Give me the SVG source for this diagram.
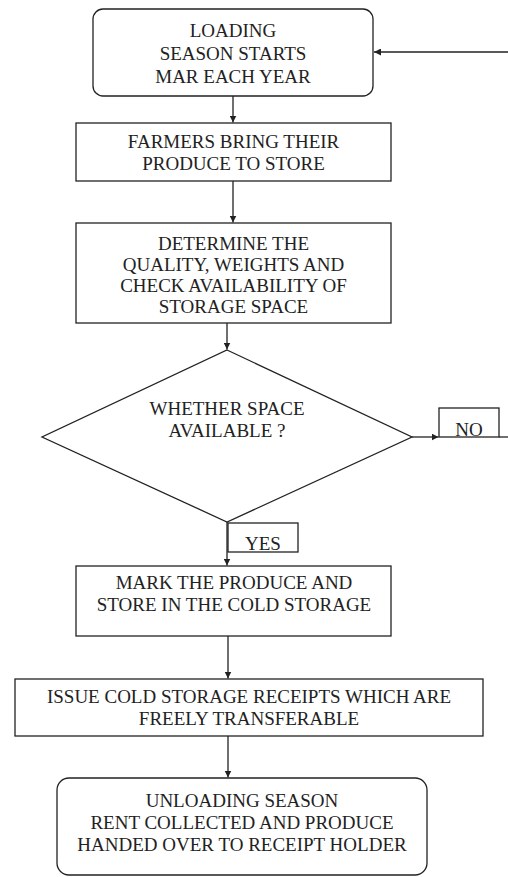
<svg xmlns="http://www.w3.org/2000/svg" width="508" height="877" viewBox="0 0 508 877">
<style>
.box{fill:#fff;stroke:#222;stroke-width:1.3}
.t{font-family:"Liberation Serif","Times New Roman",serif;font-size:19px;fill:#222;text-anchor:middle}
.c{fill:none;stroke:#222;stroke-width:1.3}
</style>
<defs>
<marker id="ah" viewBox="0 0 10 10" refX="10" refY="5" markerWidth="7" markerHeight="7" markerUnits="userSpaceOnUse" orient="auto">
<path d="M0,0 L10,5 L0,10 z" fill="#222"/>
</marker>
<clipPath id="clipNo"><rect x="439" y="408" width="60" height="28"/></clipPath>
<clipPath id="clipYes"><rect x="228" y="537" width="70" height="15"/></clipPath>
</defs>
<rect width="508" height="877" fill="#fff"/>
<g id="connectors">
<line class="c" x1="508" y1="52" x2="374" y2="52" marker-end="url(#ah)"/>
<line class="c" x1="233" y1="96" x2="233" y2="122.5" marker-end="url(#ah)"/>
<line class="c" x1="233" y1="181" x2="233" y2="222.5" marker-end="url(#ah)"/>
<line class="c" x1="227" y1="323" x2="227" y2="349.5" marker-end="url(#ah)"/>
<line class="c" x1="412" y1="437" x2="438.5" y2="437" marker-end="url(#ah)"/>
<line class="c" x1="499" y1="437" x2="508" y2="437"/>
<line class="c" x1="227" y1="522" x2="227" y2="565.5" marker-end="url(#ah)"/>
<line class="c" x1="228" y1="636" x2="228" y2="678.5" marker-end="url(#ah)"/>
<line class="c" x1="228" y1="736" x2="228" y2="777.5" marker-end="url(#ah)"/>
</g>
<g id="n1">
<rect class="box" x="93" y="9" width="280" height="87" rx="10"/>
<text class="t" x="233" y="37">LOADING</text>
<text class="t" x="233" y="60">SEASON STARTS</text>
<text class="t" x="233" y="83">MAR EACH YEAR</text>
</g>
<g id="n2">
<rect class="box" x="76" y="123" width="315" height="58"/>
<text class="t" x="233.5" y="148">FARMERS BRING THEIR</text>
<text class="t" x="233.5" y="170">PRODUCE TO STORE</text>
</g>
<g id="n3">
<rect class="box" x="76" y="223" width="315" height="100"/>
<text class="t" x="233.5" y="250">DETERMINE THE</text>
<text class="t" x="233.5" y="271">QUALITY, WEIGHTS AND</text>
<text class="t" x="233.5" y="292">CHECK AVAILABILITY OF</text>
<text class="t" x="233.5" y="313">STORAGE SPACE</text>
</g>
<g id="n4">
<polygon class="box" points="227,350 412,437 227,522 42,437"/>
<text class="t" x="227" y="415">WHETHER SPACE</text>
<text class="t" x="227" y="437">AVAILABLE ?</text>
</g>
<g id="no">
<text class="t" x="469" y="436" clip-path="url(#clipNo)">NO</text>
<rect class="box" x="439" y="408" width="60" height="29" fill="none" style="fill:none"/>
</g>
<g id="yes">
<text class="t" x="263" y="550" clip-path="url(#clipYes)">YES</text>
<rect class="box" x="228" y="523" width="70" height="29" style="fill:none"/>
</g>
<g id="n5">
<rect class="box" x="76" y="566" width="315" height="70"/>
<text class="t" x="234" y="589">MARK THE PRODUCE AND</text>
<text class="t" x="234" y="611">STORE IN THE COLD STORAGE</text>
</g>
<g id="n6">
<rect class="box" x="15" y="679" width="468" height="57"/>
<text class="t" x="249" y="703">ISSUE COLD STORAGE RECEIPTS WHICH ARE</text>
<text class="t" x="249" y="725">FREELY TRANSFERABLE</text>
</g>
<g id="n7">
<rect class="box" x="57" y="778" width="370" height="97" rx="12"/>
<text class="t" x="242" y="807">UNLOADING SEASON</text>
<text class="t" x="242" y="829">RENT COLLECTED AND PRODUCE</text>
<text class="t" x="242" y="851">HANDED OVER TO RECEIPT HOLDER</text>
</g>
</svg>
